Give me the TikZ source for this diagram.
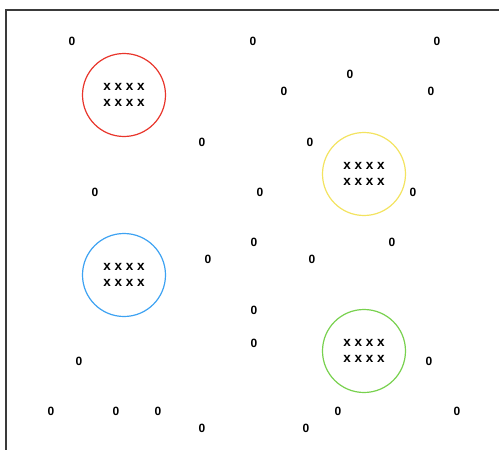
\documentclass[tikz,border=0pt]{standalone}
\usepackage{fontspec}
\setmainfont{Liberation Sans}
\usetikzlibrary{positioning}
\definecolor{RingRed}{HTML}{E8352B}
\definecolor{RingYellow}{HTML}{F3E360}
\definecolor{RingBlue}{HTML}{3DA2F2}
\definecolor{RingGreen}{HTML}{78D14E}
\definecolor{FrameLine}{HTML}{3A3A3A}
\begin{document}
\begin{tikzpicture}[x=1pt,y=-1pt,
    ring/.style={circle,line width=1.2pt,minimum size=83pt,inner sep=0pt,align=center,
      font=\fontsize{13.5}{15.5}\selectfont\bfseries},
    zero/.style={font=\fontsize{12}{13}\selectfont\bfseries,inner sep=0pt}]
    \useasboundingbox (0,0) rectangle (499,450);
    \clip (0,0) rectangle (499,450);
    \draw[FrameLine,line width=1.6pt] (6,10) rectangle (520,470);
    \node[ring,draw=RingRed] (red) at (124,95) {x x x x\\x x x x};
    \node[ring,draw=RingYellow] (yellow) at (364,174) {x x x x\\x x x x};
    \node[ring,draw=RingBlue] (blue) at (124,275) {x x x x\\x x x x};
    \node[ring,draw=RingGreen] (green) at (364,351) {x x x x\\x x x x};
    \foreach \p [count=\i] in {(72,41),(253,41),(437,41),(350,74),(284,91),(431,91),
        (202,142),(310,142),(95,192),(260,192),(413,192),(254,242),(392,242),
        (208,259),(312,259),(254,310),(254,343),(79,361),(429,361),
        (51,411),(116,411),(158,411),(338,411),(457,411),(202,428),(306,428)}
      \node[zero] (z\i) at \p {0};
  \end{tikzpicture}
\end{document}
